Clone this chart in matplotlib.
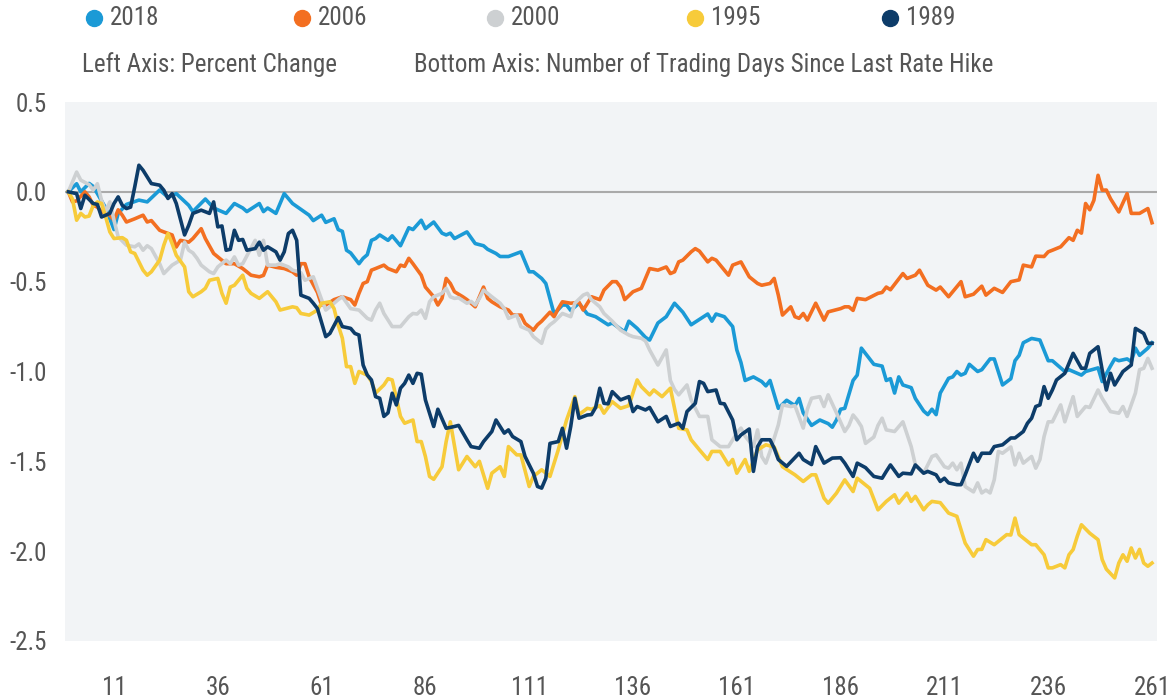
import matplotlib
matplotlib.use("Agg")
import matplotlib.pyplot as plt
from matplotlib.lines import Line2D
from matplotlib import font_manager

names = {f.name for f in font_manager.fontManager.ttflist}
cands = [n for n in ["Roboto Condensed", "Liberation Sans Narrow", "Roboto"] if n in names]
plt.rcParams['font.family'] = cands + ['DejaVu Sans']
plt.rcParams['font.stretch'] = 'condensed'

# ---------------- data (trading day, percent change) ----------------
s2018 = [(0,0),(2,0.045),(3,0.0),(5,0.047),(6,0.03),(9,-0.09),(11,-0.21),(12,-0.12),(14,-0.07),(17,-0.046),
 (19,-0.056),(22,0.01),(24,-0.03),(26,-0.01),(29,-0.075),(30,-0.11),(33,-0.04),(35,-0.09),(38,-0.12),(40,-0.065),
 (42,-0.09),(43,-0.11),(46,-0.065),(47,-0.11),(48,-0.09),(50,-0.12),(52,-0.01),(54,-0.065),(58,-0.13),(59,-0.16),
 (61,-0.13),(62,-0.17),(64,-0.15),(65,-0.21),(66,-0.22),(67,-0.325),(68,-0.34),(70,-0.40),(71,-0.37),(72,-0.35),
 (73,-0.27),(74,-0.26),(75,-0.24),(77,-0.27),(78,-0.245),(80,-0.30),(82,-0.20),(83,-0.21),(85,-0.158),(86,-0.205),
 (88,-0.168),(90,-0.23),(91,-0.24),(92,-0.23),(93,-0.26),(96,-0.223),(98,-0.288),(100,-0.30),(101,-0.32),(103,-0.343),
 (104,-0.36),(106,-0.36),(109,-0.334),(111,-0.445),(112,-0.445),(114,-0.482),(115,-0.51),(117,-0.68),(119,-0.63),(120,-0.63),
 (121,-0.66),(123,-0.62),(125,-0.68),(127,-0.695),(130,-0.74),(131,-0.73),(134,-0.78),(135,-0.72),(137,-0.76),(139,-0.81),
 (140,-0.825),(142,-0.73),(144,-0.695),(146,-0.62),(148,-0.67),(150,-0.74),(152,-0.71),(154,-0.68),(155,-0.72),(156,-0.68),
 (158,-0.695),(160,-0.75),(161,-0.88),(162,-0.95),(163,-1.05),(165,-1.03),(167,-1.056),(168,-1.08),(169,-1.05),(171,-1.205),
 (173,-1.16),(175,-1.19),(176,-1.15),(177,-1.23),(179,-1.30),(181,-1.27),(183,-1.29),(184,-1.31),(185,-1.27),(186,-1.21),
 (187,-1.205),(189,-1.05),(190,-1.02),(191,-0.87),(194,-0.96),(196,-0.97),(197,-1.05),(198,-1.04),(199,-1.12),(200,-1.03),
 (201,-1.075),(203,-1.09),(204,-1.15),(206,-1.22),(207,-1.24),(208,-1.21),(209,-1.24),(210,-1.12),(212,-1.038),(213,-1.03),
 (214,-1.0),(215,-1.02),(216,-1.01),(217,-0.96),(219,-1.0),(220,-0.99),(222,-0.93),(223,-0.93),(225,-1.075),(227,-1.04),
 (228,-0.94),(229,-0.91),(230,-0.84),(232,-0.816),(234,-0.825),(236,-0.94),(237,-0.94),(240,-1.0),(241,-0.99),(244,-1.02),
 (245,-1.0),(248,-0.98),(249,-1.056),(251,-0.97),(252,-0.93),(253,-0.94),(255,-0.93),(256,-0.945),(257,-0.87),(258,-0.91),
 (260,-0.87),(261,-0.84)]

s2006 = [(0,0),(1,-0.056),(2,-0.05),(4,0.0),(5,-0.028),(6,-0.075),(7,-0.085),(8,-0.11),(10,-0.13),(11,-0.158),
 (12,-0.10),(13,-0.13),(14,-0.168),(16,-0.15),(18,-0.13),(19,-0.168),(20,-0.16),(22,-0.214),(23,-0.223),(25,-0.24),
 (26,-0.307),(27,-0.27),(29,-0.28),(30,-0.26),(32,-0.205),(33,-0.26),(35,-0.343),(36,-0.362),(38,-0.40),(40,-0.40),
 (42,-0.427),(44,-0.464),(46,-0.473),(47,-0.465),(48,-0.408),(50,-0.42),(52,-0.427),(54,-0.445),(55,-0.464),(56,-0.40),
 (57,-0.40),(58,-0.473),(60,-0.56),(61,-0.63),(62,-0.63),(64,-0.60),(66,-0.584),(68,-0.60),(69,-0.63),(70,-0.565),
 (71,-0.51),(72,-0.50),(73,-0.436),(74,-0.427),(76,-0.408),(77,-0.427),(79,-0.445),(80,-0.408),(81,-0.415),(82,-0.37),
 (83,-0.40),(85,-0.464),(86,-0.53),(88,-0.584),(89,-0.63),(90,-0.593),(91,-0.482),(92,-0.51),(93,-0.556),(95,-0.584),
 (96,-0.60),(98,-0.64),(100,-0.53),(101,-0.593),(102,-0.612),(104,-0.64),(106,-0.658),(107,-0.686),(109,-0.686),(110,-0.732),
 (112,-0.77),(113,-0.74),(114,-0.72),(116,-0.67),(117,-0.695),(118,-0.65),(119,-0.612),(121,-0.62),(123,-0.615),(124,-0.658),
 (126,-0.584),(128,-0.60),(129,-0.547),(131,-0.50),(132,-0.50),(133,-0.53),(134,-0.60),(136,-0.556),(138,-0.537),(140,-0.427),
 (142,-0.436),(144,-0.418),(145,-0.455),(146,-0.445),(147,-0.39),(148,-0.38),(150,-0.334),(151,-0.316),(152,-0.33),(154,-0.39),
 (155,-0.37),(156,-0.38),(158,-0.436),(159,-0.464),(160,-0.408),(162,-0.39),(164,-0.473),(166,-0.51),(167,-0.52),(169,-0.51),
 (170,-0.482),(171,-0.575),(172,-0.686),(174,-0.64),(175,-0.695),(176,-0.704),(177,-0.677),(178,-0.714),(180,-0.62),(182,-0.714),
 (183,-0.668),(186,-0.65),(187,-0.64),(188,-0.64),(189,-0.66),(190,-0.593),(192,-0.60),(195,-0.565),(196,-0.56),(197,-0.53),
 (198,-0.545),(201,-0.455),(202,-0.482),(204,-0.464),(205,-0.436),(207,-0.52),(209,-0.547),(210,-0.53),(212,-0.584),(215,-0.50),
 (216,-0.584),(218,-0.57),(220,-0.525),(221,-0.575),(223,-0.537),(225,-0.56),(226,-0.53),(227,-0.50),(229,-0.49),(230,-0.408),
 (232,-0.418),(233,-0.358),(235,-0.36),(236,-0.334),(237,-0.325),(239,-0.306),(241,-0.255),(242,-0.27),(243,-0.214),(244,-0.23),
 (245,-0.065),(246,-0.10),(247,-0.047),(248,0.092),(249,0.009),(250,0.01),(251,-0.038),(253,-0.112),(255,-0.01),(256,-0.12),
 (258,-0.12),(260,-0.093),(261,-0.172)]

s2000 = [(0,0),(2,0.11),(3,0.065),(5,0.04),(6,0.01),(7,0.045),(8,-0.047),(9,-0.11),(10,-0.056),(11,-0.158),
 (12,-0.25),(14,-0.297),(16,-0.306),(17,-0.29),(18,-0.325),(19,-0.30),(20,-0.316),(22,-0.40),(23,-0.455),(25,-0.408),
 (27,-0.38),(28,-0.28),(29,-0.325),(30,-0.34),(31,-0.37),(32,-0.408),(34,-0.445),(35,-0.455),(36,-0.418),(38,-0.38),
 (39,-0.40),(40,-0.362),(41,-0.408),(42,-0.40),(45,-0.27),(46,-0.353),(47,-0.27),(48,-0.408),(50,-0.408),(51,-0.40),
 (53,-0.418),(54,-0.436),(56,-0.45),(57,-0.492),(59,-0.473),(60,-0.537),(61,-0.60),(62,-0.658),(63,-0.64),(65,-0.60),
 (66,-0.584),(68,-0.65),(70,-0.658),(72,-0.704),(73,-0.714),(74,-0.658),(75,-0.62),(76,-0.677),(77,-0.714),(78,-0.75),
 (80,-0.75),(82,-0.695),(83,-0.677),(84,-0.68),(85,-0.658),(86,-0.704),(87,-0.612),(88,-0.584),(90,-0.565),(91,-0.537),
 (92,-0.584),(93,-0.593),(94,-0.59),(96,-0.62),(97,-0.61),(98,-0.63),(99,-0.593),(100,-0.547),(102,-0.584),(104,-0.62),
 (105,-0.65),(106,-0.704),(108,-0.686),(109,-0.75),(111,-0.77),(112,-0.806),(114,-0.843),(115,-0.765),(116,-0.74),(117,-0.723),
 (119,-0.677),(121,-0.695),(122,-0.62),(124,-0.575),(125,-0.565),(126,-0.60),(128,-0.64),(129,-0.677),(131,-0.72),(133,-0.77),
 (135,-0.797),(136,-0.806),(138,-0.815),(139,-0.83),(140,-0.88),(142,-0.964),(144,-0.88),(145,-1.05),(146,-1.10),(147,-1.13),
 (149,-1.075),(150,-1.158),(152,-1.25),(154,-1.25),(155,-1.38),(157,-1.418),(159,-1.418),(161,-1.343),(162,-1.315),(163,-1.36),
 (165,-1.418),(166,-1.325),(167,-1.473),(168,-1.51),(169,-1.445),(171,-1.297),(172,-1.186),(174,-1.195),(175,-1.19),(177,-1.315),
 (178,-1.21),(179,-1.149),(181,-1.14),(182,-1.195),(183,-1.13),(185,-1.23),(187,-1.334),(188,-1.30),(189,-1.242),(190,-1.27),
 (191,-1.306),(192,-1.40),(194,-1.365),(195,-1.30),(196,-1.26),(197,-1.325),(199,-1.334),(201,-1.28),(203,-1.418),(204,-1.52),
 (206,-1.566),(208,-1.473),(209,-1.464),(211,-1.53),(212,-1.538),(213,-1.51),(214,-1.547),(215,-1.51),(216,-1.64),(218,-1.67),
 (219,-1.62),(220,-1.676),(221,-1.66),(222,-1.676),(223,-1.603),(224,-1.445),(225,-1.455),(227,-1.42),(228,-1.52),(229,-1.455),
 (230,-1.51),(232,-1.473),(233,-1.538),(234,-1.49),(235,-1.362),(236,-1.28),(237,-1.28),(239,-1.186),(240,-1.28),(242,-1.14),
 (243,-1.25),(245,-1.195),(246,-1.20),(248,-1.103),(249,-1.149),(251,-1.223),(253,-1.232),(254,-1.195),(255,-1.25),(257,-1.12),
 (258,-0.99),(259,-0.982),(260,-0.927),(261,-0.982)]

s1995 = [(0,0),(1,-0.04),(2,-0.158),(3,-0.12),(4,-0.14),(5,-0.135),(6,-0.075),(7,-0.056),(8,-0.065),(9,-0.14),
 (10,-0.223),(11,-0.26),(13,-0.255),(14,-0.27),(15,-0.334),(16,-0.343),(18,-0.436),(19,-0.464),(20,-0.445),(22,-0.38),
 (23,-0.297),(24,-0.232),(25,-0.288),(26,-0.353),(28,-0.418),(29,-0.556),(30,-0.584),(32,-0.556),(33,-0.537),(34,-0.492),
 (36,-0.482),(37,-0.565),(38,-0.62),(39,-0.53),(40,-0.52),(42,-0.464),(43,-0.537),(44,-0.565),(46,-0.593),(48,-0.556),
 (50,-0.612),(51,-0.658),(54,-0.64),(55,-0.645),(56,-0.677),(58,-0.686),(60,-0.658),(61,-0.62),(63,-0.612),(64,-0.65),
 (65,-0.742),(66,-0.815),(67,-0.973),(68,-0.973),(69,-1.066),(70,-1.0),(72,-1.02),(73,-1.056),(74,-1.12),(76,-1.075),
 (77,-1.04),(78,-1.047),(80,-1.25),(81,-1.288),(83,-1.27),(84,-1.39),(85,-1.39),(86,-1.473),(87,-1.584),(88,-1.60),
 (90,-1.53),(91,-1.39),(92,-1.28),(94,-1.547),(95,-1.51),(96,-1.473),(98,-1.53),(99,-1.50),(101,-1.65),(102,-1.566),
 (104,-1.53),(105,-1.584),(106,-1.418),(108,-1.464),(109,-1.464),(111,-1.64),(112,-1.584),(114,-1.547),(116,-1.584),(118,-1.436),
 (120,-1.27),(122,-1.14),(123,-1.24),(125,-1.205),(126,-1.21),(128,-1.19),(129,-1.232),(131,-1.168),(133,-1.205),(135,-1.19),
 (137,-1.047),(138,-1.084),(140,-1.13),(141,-1.103),(143,-1.14),(145,-1.093),(147,-1.316),(149,-1.325),(150,-1.38),(152,-1.436),
 (154,-1.49),(155,-1.445),(157,-1.445),(159,-1.52),(160,-1.49),(161,-1.566),(163,-1.49),(164,-1.556),(166,-1.436),(168,-1.408),
 (170,-1.42),(172,-1.53),(175,-1.575),(177,-1.612),(179,-1.575),(180,-1.575),(182,-1.705),(183,-1.733),(185,-1.677),(187,-1.603),
 (189,-1.668),(190,-1.594),(193,-1.65),(195,-1.77),(197,-1.723),(199,-1.686),(200,-1.733),(202,-1.677),(203,-1.723),(204,-1.695),
 (206,-1.77),(207,-1.742),(208,-1.723),(210,-1.73),(212,-1.788),(214,-1.806),(215,-1.88),(216,-1.955),(218,-2.028),(219,-1.991),
 (220,-1.99),(221,-1.936),(223,-1.964),(225,-1.927),(226,-1.908),(227,-1.91),(228,-1.816),(229,-1.908),(230,-1.927),(232,-1.964),
 (233,-1.964),(235,-2.02),(236,-2.093),(237,-2.093),(239,-2.075),(240,-2.093),(241,-2.02),(242,-1.991),(243,-1.917),(244,-1.853),
 (246,-1.90),(248,-1.936),(249,-2.047),(250,-2.10),(252,-2.149),(253,-2.066),(254,-2.02),(255,-2.056),(256,-1.982),(257,-2.038),
 (258,-1.99),(259,-2.066),(260,-2.084),(261,-2.066)]

s1989 = [(0,0),(2,-0.01),(3,-0.093),(4,-0.019),(6,-0.065),(7,-0.07),(8,-0.14),(10,-0.12),(11,-0.065),(12,-0.028),
 (13,-0.075),(14,-0.093),(15,-0.085),(16,0.028),(17,0.148),(18,0.12),(20,0.046),(22,0.037),(23,0.009),(24,-0.037),
 (25,-0.01),(26,-0.065),(28,-0.24),(29,-0.186),(30,-0.12),(32,-0.102),(34,-0.12),(35,-0.056),(36,-0.195),(37,-0.19),
 (38,-0.325),(39,-0.32),(40,-0.214),(41,-0.27),(42,-0.265),(43,-0.325),(45,-0.316),(46,-0.28),(47,-0.325),(48,-0.306),
 (50,-0.334),(51,-0.38),(52,-0.334),(53,-0.232),(54,-0.214),(55,-0.27),(56,-0.575),(57,-0.584),(58,-0.593),(59,-0.62),
 (60,-0.65),(62,-0.806),(63,-0.788),(65,-0.70),(66,-0.75),(68,-0.76),(69,-0.788),(70,-0.797),(71,-0.964),(72,-1.02),
 (73,-1.047),(74,-1.14),(75,-1.149),(76,-1.25),(77,-1.23),(78,-1.121),(79,-1.186),(80,-1.093),(81,-1.066),(82,-1.02),
 (83,-1.066),(84,-1.01),(85,-1.015),(86,-1.158),(88,-1.306),(89,-1.21),(91,-1.316),(93,-1.306),(94,-1.30),(96,-1.38),
 (97,-1.418),(99,-1.427),(100,-1.39),(102,-1.334),(103,-1.27),(105,-1.343),(106,-1.325),(107,-1.362),(109,-1.39),(110,-1.473),
 (112,-1.566),(113,-1.64),(114,-1.649),(115,-1.594),(116,-1.40),(118,-1.39),(119,-1.316),(120,-1.427),(121,-1.306),(122,-1.149),
 (123,-1.26),(125,-1.242),(126,-1.24),(127,-1.20),(128,-1.093),(129,-1.177),(130,-1.18),(131,-1.112),(133,-1.158),(135,-1.14),
 (136,-1.223),(137,-1.195),(139,-1.214),(140,-1.20),(142,-1.28),(144,-1.25),(145,-1.306),(147,-1.288),(148,-1.316),(149,-1.223),
 (151,-1.177),(152,-1.056),(153,-1.066),(154,-1.112),(156,-1.103),(157,-1.177),(158,-1.18),(160,-1.27),(161,-1.38),(162,-1.353),
 (164,-1.32),(165,-1.556),(166,-1.418),(167,-1.38),(169,-1.38),(170,-1.427),(171,-1.49),(173,-1.528),(176,-1.455),(177,-1.49),
 (179,-1.518),(180,-1.418),(182,-1.51),(184,-1.482),(186,-1.48),(187,-1.51),(189,-1.584),(190,-1.51),(192,-1.535),(194,-1.584),
 (196,-1.594),(197,-1.556),(198,-1.52),(200,-1.584),(201,-1.566),(203,-1.57),(204,-1.52),(206,-1.566),(207,-1.556),(209,-1.575),
 (210,-1.612),(211,-1.594),(212,-1.62),(214,-1.63),(215,-1.63),(216,-1.575),(218,-1.455),(219,-1.50),(220,-1.455),(222,-1.455),
 (223,-1.418),(225,-1.408),(227,-1.37),(228,-1.37),(230,-1.334),(231,-1.288),(232,-1.26),(233,-1.195),(234,-1.186),(235,-1.084),
 (236,-1.149),(237,-1.103),(238,-1.047),(240,-1.01),(242,-0.899),(244,-0.982),(245,-0.982),(246,-0.899),(248,-0.862),(249,-0.992),
 (250,-1.103),(251,-1.01),(252,-1.075),(254,-1.0),(256,-0.964),(257,-0.76),(259,-0.788),(260,-0.843),(261,-0.843)]

series_labels = ["2018", "2006", "2000", "1995", "1989"]
series_data = [s2018, s2006, s2000, s1995, s1989]
series_colors = ["#1b9ad6", "#f36f21", "#cdd0d2", "#f7cb3a", "#0d3c69"]

x_ticks = [11, 36, 61, 86, 111, 136, 161, 186, 211, 236, 261]
y_ticks = [0.5, 0.0, -0.5, -1.0, -1.5, -2.0, -2.5]

text_color = "#555555"
fs = 18

# ---------------- figure ----------------
fig = plt.figure(figsize=(11.7, 7.0), dpi=100)
ax = fig.add_axes([65/1170, 59/700, 1092/1170, 539/700])
ax.set_facecolor("#f2f4f6")
for sp in ax.spines.values():
    sp.set_visible(False)

ax.axhline(0, color="#aaaaaa", linewidth=1.5, zorder=1)

for lab, data, col in zip(series_labels, series_data, series_colors):
    xs = [p[0] for p in data]
    ys = [p[1] for p in data]
    ax.plot(xs, ys, color=col, linewidth=2.6, solid_joinstyle="round", zorder=2)

ax.set_xlim(-0.8, 262.2)
ax.set_ylim(-2.5, 0.5)
ax.set_xticks(x_ticks)
ax.set_xticklabels([str(t) for t in x_ticks])
ax.set_yticks(y_ticks)
ax.set_yticklabels([f"{t:.1f}" for t in y_ticks])
ax.tick_params(axis="both", length=0, labelsize=fs, labelcolor=text_color)
ax.tick_params(axis="x", pad=25)
ax.tick_params(axis="y", pad=13)

# legend row
leg_x = [94, 302, 495, 695, 890]
for xpix, lab, col in zip(leg_x, series_labels, series_colors):
    fig.add_artist(Line2D([xpix/1170], [1 - 18/700], marker="o", markersize=11.5,
                          linestyle="", color=col, transform=fig.transFigure))
    fig.text((xpix + 16)/1170, 1 - 18/700, lab, fontsize=fs, color=text_color,
             ha="left", va="center")

fig.text(82/1170, 1 - 65/700, "Left Axis: Percent Change", fontsize=fs,
         color=text_color, ha="left", va="center")
fig.text(414/1170, 1 - 65/700, "Bottom Axis: Number of Trading Days Since Last Rate Hike",
         fontsize=fs, color=text_color, ha="left", va="center")

fig.savefig("out.png", dpi=100)
